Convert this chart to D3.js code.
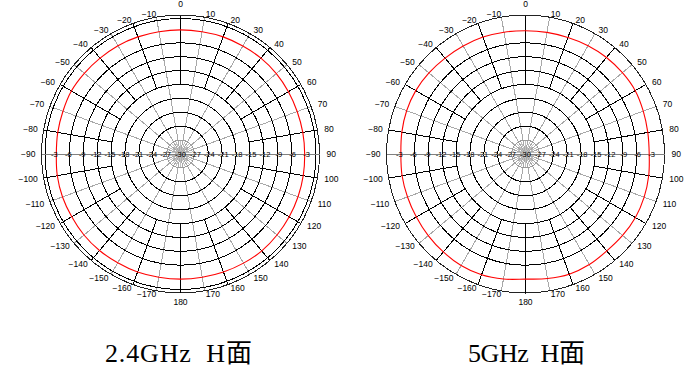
<!DOCTYPE html>
<html>
<head>
<meta charset="utf-8">
<script src="https://cdn.jsdelivr.net/npm/d3@7"></script>
<style>
body { margin: 0; background: #fff; }
svg { display: block; }
</style>
</head>
<body>
<svg id="chart" width="687" height="378"></svg>
<script>
// angle labels, degrees clockwise from top
const angleLabels = [0,10,20,30,40,50,60,70,80,90,100,110,120,130,140,150,160,170,180,
    -170,-160,-150,-140,-130,-120,-110,-100,-90,-80,-70,-60,-50,-40,-30,-20,-10];
// dB rings / labels along the 90 deg axis
const dbRings = [-6,-9,-12,-15,-18,-21,-24,-27];
const dbLabels = [-3,-6,-9,-12,-15,-18,-21,-24,-27];
// measured pattern, every 10 deg from 0 clockwise
const patternAngles = [0,10,20,30,40,50,60,70,80,90,100,110,120,130,140,150,160,170,
    180,190,200,210,220,230,240,250,260,270,280,290,300,310,320,330,340,350];
const gain24 = [-3.2,-3.2,-3.1,-3.1,-3.0,-3.0,-3.1,-3.2,-3.2,-3.2,-3.1,-3.0,-2.9,-2.8,-2.7,-2.8,-2.9,-3.0,
    -3.0,-3.0,-2.9,-2.9,-2.8,-2.8,-2.9,-2.9,-3.0,-3.2,-3.1,-3.0,-2.8,-2.9,-3.0,-3.0,-3.1,-3.2];
const gain5 = [-3.4,-3.35,-3.25,-3.0,-2.8,-2.7,-2.65,-2.95,-3.2,-3.3,-3.0,-2.75,-2.6,-2.65,-2.7,-2.45,-2.4,-2.7,
    -3.0,-2.6,-2.25,-2.2,-2.4,-2.6,-2.8,-2.9,-2.95,-3.1,-2.9,-2.7,-2.65,-2.8,-3.0,-3.1,-3.15,-3.3];
const titles = ["2.4GHz  H面", "5GHz  H面"];

const svg = d3.select("#chart");
const R = 139;
const rad = d => d * Math.PI / 180;

function drawPolar(cx, cy, gains, title, titleX, titleW, doubleRim) {
    const g = svg.append("g").attr("transform", "translate(" + cx + "," + cy + ")");
    const grid = g.append("g").attr("shape-rendering", "crispEdges");
    const r = d3.scaleLinear().domain([-30, 0]).range([0, R]);

    // spokes
    const spokes = d3.range(0, 360, 10);
    spokes.forEach(function (a) {
        const s = Math.sin(rad(a)), c = Math.cos(rad(a));
        if (a === 90 || a === 270) return;
        if ((a / 10) % 2 === 1) {
            grid.append("line")
                .attr("x1", 0).attr("y1", 0)
                .attr("x2", R * s).attr("y2", -R * c)
                .attr("stroke", "#a8a8a8");
        } else {
            grid.append("line")
                .attr("x1", r(-15) * s).attr("y1", -r(-15) * c)
                .attr("x2", R * s).attr("y2", -R * c)
                .attr("stroke", "#000");
            grid.append("line")
                .attr("x1", 0).attr("y1", 0)
                .attr("x2", r(-27) * s).attr("y2", -r(-27) * c)
                .attr("stroke", "#c0c0c0");
        }
    });

    // rings
    grid.selectAll(".ring")
        .data(dbRings)
        .join("circle")
        .attr("class", "ring")
        .attr("r", d => r(d))
        .attr("fill", "none")
        .attr("stroke", d => d <= -27 ? "#9a9a9a" : "#000");

    grid.append("circle").attr("r", R).attr("fill", "none").attr("stroke", "#222");
    if (doubleRim) {
        grid.append("circle").attr("r", R - 3.5).attr("fill", "none").attr("stroke", "#000");
    }

    // 90 deg axis
    grid.append("line")
        .attr("x1", -R).attr("x2", R).attr("y1", 0).attr("y2", 0)
        .attr("stroke", "#808080");

    // pattern
    const line = d3.lineRadial()
        .angle((d, i) => rad(patternAngles[i]))
        .radius(d => r(d))
        .curve(d3.curveCardinalClosed);
    g.append("path")
        .attr("d", line(gains))
        .attr("fill", "none")
        .attr("stroke", "#ff0000")
        .attr("stroke-width", 1.1);

    // angle labels
    g.selectAll(".alab")
        .data(angleLabels)
        .join("text")
        .attr("class", "alab")
        .each(function (a) {
            const s = Math.sin(rad(a)), c = Math.cos(rad(a));
            const t = d3.select(this);
            if (Math.abs(s) < 0.01) {
                t.attr("x", 0).attr("y", c > 0 ? -150 : 148).attr("text-anchor", "middle");
            } else {
                const rl = R + 7;
                t.attr("x", rl * s + (s > 0 ? 0 : 1))
                    .attr("y", -rl * c + 3.5 * c * Math.abs(c))
                    .attr("text-anchor", s > 0 ? "start" : "end");
            }
        })
        .attr("dominant-baseline", "central")
        .attr("font-family", "Liberation Sans, Arial, sans-serif")
        .attr("font-size", 8.5)
        .attr("fill", "#000")
        .text(a => a < 0 ? "\u2212" + (-a) : a);

    // dB labels on the horizontal axis
    const dbl = [];
    dbLabels.forEach(d => { dbl.push({ v: d, x: -r(d) - 1 }); dbl.push({ v: d, x: r(d) + 1 }); });
    dbl.push({ v: -30, x: 0 });
    g.selectAll(".dlab")
        .data(dbl)
        .join("text")
        .attr("class", "dlab")
        .attr("x", d => d.x)
        .attr("y", 0.5)
        .attr("text-anchor", "middle")
        .attr("dominant-baseline", "central")
        .attr("font-family", "Liberation Sans, Arial, sans-serif")
        .attr("font-size", 7.5)
        .attr("fill", "#000")
        .text(d => d.v);

    svg.append("text")
        .attr("x", titleX)
        .attr("y", 362)
        .attr("textLength", titleW)
        .attr("lengthAdjust", "spacing")
        .style("white-space", "pre")
        .attr("font-family", "Liberation Serif, Noto Sans CJK SC, serif")
        .attr("font-size", 26)
        .attr("fill", "#000")
        .text(title);
}

drawPolar(180.5, 154, gain24, titles[0], 105, 147, true);
drawPolar(525.5, 154, gain5, titles[1], 468, 117, false);
</script>
</body>
</html>
